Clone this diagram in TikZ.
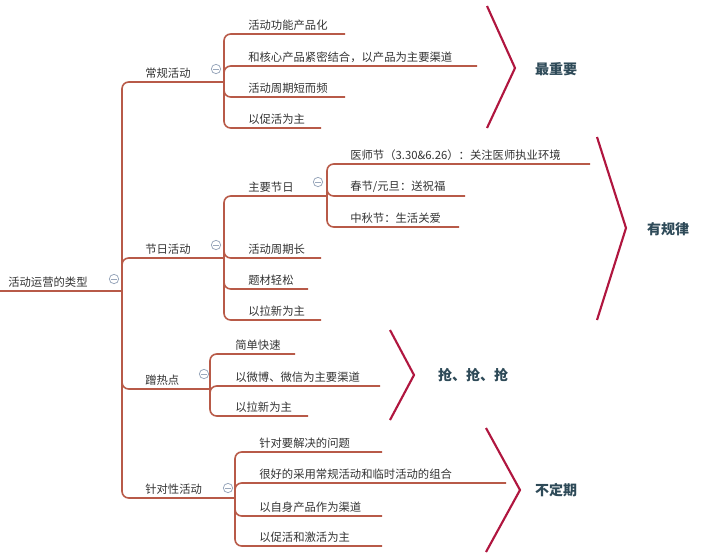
\documentclass[tikz,border=0pt]{standalone}
\usepackage{fontspec}
\setmainfont{Noto Sans CJK SC}
\definecolor{brline}{HTML}{B85A48}
\definecolor{chev}{HTML}{B0163F}
\definecolor{lbl}{HTML}{2E4A58}
\definecolor{tgl}{HTML}{9AA8BC}
\tikzset{
  br/.style={draw=brline,line width=1.2pt,rounded corners=5},
  chv/.style={draw=chev,line width=1.6pt},
  leaf/.style={anchor=south west,inner xsep=0pt,inner ysep=2.5pt,font=\fontsize{8.5}{10}\selectfont,text=black!80},
  tag/.style={font=\fontsize{10.5}{12}\selectfont\itshape\bfseries,text=lbl},
  tog/.style={circle,draw=tgl,line width=0.6pt,minimum size=7pt,inner sep=0pt,text=tgl}
}
% text node plus the end of its underline
\newcommand{\leaf}[5]{\node[leaf] (#1) at (#2,#3) {#5}; \coordinate (#1e) at (#4,#3);}
\begin{document}
\begin{tikzpicture}[x=0.75pt,y=-0.75pt]
    \useasboundingbox (0,0) rectangle (717,558);

    % root
    \leaf{root}{8}{291}{122}{活动运营的类型}
    \coordinate (rs) at (0,291);
    \coordinate (rj) at (122,291);
    \draw[br] (rs) -- (rj);
    \node[tog] (t0) at (114,279) {\rule{4pt}{0.6pt}};

    % 常规活动
    \leaf{b1}{145}{82}{224}{常规活动}
    \coordinate (s1) at (224,82);
    \leaf{c11}{248}{34}{345}{活动功能产品化}
    \leaf{c12}{248}{66}{477}{和核心产品紧密结合，以产品为主要渠道}
    \leaf{c13}{248}{97}{345}{活动周期短而频}
    \leaf{c14}{248}{128}{321}{以促活为主}
    \draw[br] (rj) |- (s1);
    \draw[br] (s1) |- (c11e);
    \draw[br] (s1) |- (c12e);
    \draw[br] (s1) |- (c13e);
    \draw[br] (s1) |- (c14e);
    \node[tog] (t1) at (216,69) {\rule{4pt}{0.6pt}};

    % 节日活动
    \leaf{b2}{145}{258}{224}{节日活动}
    \coordinate (s2) at (224,258);
    \leaf{c21}{248}{196}{327}{主要节日}
    \coordinate (s21) at (327,196);
    \leaf{d1}{350}{164}{590}{医师节（3.30\&6.26）：关注医师执业环境}
    \leaf{d2}{350}{196}{465}{春节/元旦：送祝福}
    \leaf{d3}{350}{227}{459}{中秋节：生活关爱}
    \leaf{c22}{248}{258}{321}{活动周期长}
    \leaf{c23}{248}{289}{308}{题材轻松}
    \leaf{c24}{248}{320}{321}{以拉新为主}
    \draw[br] (rj) |- (s2);
    \draw[br] (s2) |- (s21);
    \draw[br] (s21) |- (d1e);
    \draw[br] (s21) |- (d2e);
    \draw[br] (s21) |- (d3e);
    \draw[br] (s2) |- (c22e);
    \draw[br] (s2) |- (c23e);
    \draw[br] (s2) |- (c24e);
    \node[tog] (t2) at (216,245) {\rule{4pt}{0.6pt}};
    \node[tog] (t21) at (318,182) {\rule{4pt}{0.6pt}};

    % 蹭热点
    \leaf{b3}{145}{389}{210}{蹭热点}
    \coordinate (s3) at (210,389);
    \leaf{c31}{235}{354}{295}{简单快速}
    \leaf{c32}{235}{386}{380}{以微博、微信为主要渠道}
    \leaf{c33}{235}{416}{308}{以拉新为主}
    \draw[br] (rj) |- (s3);
    \draw[br] (s3) |- (c31e);
    \draw[br] (s3) |- (c32e);
    \draw[br] (s3) |- (c33e);
    \node[tog] (t3) at (204,374) {\rule{4pt}{0.6pt}};

    % 针对性活动
    \leaf{b4}{145}{498}{235}{针对性活动}
    \coordinate (s4) at (235,498);
    \leaf{c41}{259}{452}{382}{针对要解决的问题}
    \leaf{c42}{259}{483}{506}{很好的采用常规活动和临时活动的组合}
    \leaf{c43}{259}{516}{382}{以自身产品作为渠道}
    \leaf{c44}{259}{546}{382}{以促活和激活为主}
    \draw[br] (rj) |- (s4);
    \draw[br] (s4) |- (c41e);
    \draw[br] (s4) |- (c42e);
    \draw[br] (s4) |- (c43e);
    \draw[br] (s4) |- (c44e);
    \node[tog] (t4) at (228,488) {\rule{4pt}{0.6pt}};

    % summaries
    \draw[chv] (487,6) -- (515,68) -- (487,128);
    \node[tag] (g1) at (556,69) {最重要};
    \draw[chv] (597,137) -- (626,228) -- (597,320);
    \node[tag] (g2) at (668,229) {有规律};
    \draw[chv] (390,330) -- (414,375) -- (390,420);
    \node[tag] (g3) at (473,375) {抢、抢、抢};
    \draw[chv] (486,428) -- (520,490) -- (486,552);
    \node[tag] (g4) at (556,490) {不定期};
\end{tikzpicture}
\end{document}
